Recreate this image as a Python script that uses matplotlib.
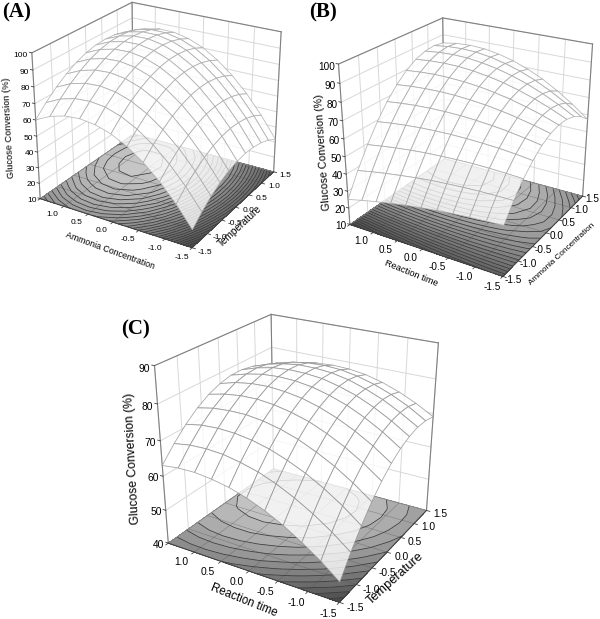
import numpy as np
import matplotlib
matplotlib.use("Agg")
import matplotlib.pyplot as plt
from matplotlib.colors import LinearSegmentedColormap
from mpl_toolkits.mplot3d import proj3d

plt.rcParams['font.family'] = ['Liberation Sans', 'DejaVu Sans']
W, H = 600, 619
ticks = [-1.5, -1.0, -0.5, 0.0, 0.5, 1.0, 1.5]
grid = [-1.5, -1.2, -0.9, -0.6, -0.3, 0.0, 0.3, 0.6, 0.9, 1.2, 1.5]

# surface heights, rows = y axis (left side), columns = x axis (right side)
Z_A = [[21.0, 26.8, 31.5, 35.1, 37.8, 39.4, 40.0, 39.5, 38.1, 35.6, 32.0],
       [33.5, 39.3, 44.1, 47.8, 50.6, 52.3, 53.0, 52.6, 51.3, 48.9, 45.4],
       [44.0, 49.9, 54.8, 58.6, 61.5, 63.3, 64.1, 63.8, 62.6, 60.3, 57.0],
       [52.6, 58.6, 63.6, 67.6, 70.5, 72.4, 73.3, 73.2, 72.0, 69.8, 66.6],
       [59.3, 65.4, 70.5, 74.6, 77.6, 79.7, 80.6, 80.6, 79.5, 77.4, 74.3],
       [64.2, 70.4, 75.6, 79.7, 82.9, 85.0, 86.1, 86.1, 85.2, 83.2, 80.2],
       [67.1, 73.5, 78.7, 83.0, 86.2, 88.5, 89.6, 89.8, 88.9, 87.0, 84.1],
       [68.2, 74.6, 80.0, 84.4, 87.7, 90.0, 91.3, 91.6, 90.8, 89.0, 86.2],
       [67.4, 73.9, 79.4, 83.8, 87.3, 89.7, 91.1, 91.4, 90.8, 89.1, 86.4],
       [64.7, 71.3, 76.9, 81.4, 85.0, 87.5, 89.0, 89.4, 88.9, 87.3, 84.7],
       [60.1, 66.8, 72.5, 77.1, 80.8, 83.4, 85.0, 85.5, 85.1, 83.6, 81.0]]
Z_B = [[38.0, 46.8, 54.1, 59.8, 64.1, 66.8, 67.9, 67.6, 65.7, 62.3, 57.3],
       [37.5, 46.7, 54.5, 60.9, 65.7, 69.1, 71.1, 71.5, 70.5, 68.1, 64.1],
       [36.8, 46.5, 54.8, 61.7, 67.1, 71.1, 73.7, 74.9, 74.7, 73.1, 70.0],
       [36.0, 46.1, 54.9, 62.2, 68.2, 72.8, 76.0, 77.8, 78.3, 77.4, 75.1],
       [35.0, 45.5, 54.7, 62.5, 69.0, 74.1, 77.8, 80.2, 81.2, 80.9, 79.2],
       [33.8, 44.8, 54.3, 62.6, 69.5, 75.0, 79.2, 82.0, 83.5, 83.6, 82.4],
       [32.5, 43.8, 53.8, 62.4, 69.7, 75.6, 80.1, 83.3, 85.1, 85.6, 84.7],
       [30.9, 42.6, 53.0, 62.0, 69.6, 75.8, 80.6, 84.1, 86.2, 86.9, 86.2],
       [29.2, 41.3, 52.0, 61.3, 69.2, 75.6, 80.7, 84.3, 86.5, 87.3, 86.7],
       [27.3, 39.8, 50.8, 60.4, 68.5, 75.1, 80.3, 84.0, 86.2, 87.0, 86.3],
       [25.2, 38.1, 49.4, 59.2, 67.5, 74.2, 79.5, 83.2, 85.3, 86.0, 85.0]]
Z_C = [[45.7, 51.1, 55.8, 59.9, 63.2, 65.9, 67.9, 69.2, 69.9, 69.8, 69.1],
       [49.8, 55.1, 59.7, 63.6, 66.8, 69.4, 71.3, 72.4, 72.9, 72.8, 71.9],
       [53.3, 58.5, 63.0, 66.8, 69.9, 72.3, 74.1, 75.1, 75.5, 75.2, 74.2],
       [56.4, 61.4, 65.8, 69.4, 72.4, 74.7, 76.4, 77.3, 77.5, 77.1, 76.0],
       [58.9, 63.8, 68.0, 71.6, 74.5, 76.6, 78.1, 78.9, 79.1, 78.5, 77.3],
       [60.9, 65.7, 69.8, 73.2, 75.9, 78.0, 79.4, 80.1, 80.1, 79.4, 78.0],
       [62.4, 67.0, 71.0, 74.3, 76.9, 78.8, 80.1, 80.6, 80.5, 79.7, 78.2],
       [63.3, 67.9, 71.7, 74.9, 77.4, 79.2, 80.3, 80.7, 80.5, 79.5, 77.9],
       [63.8, 68.2, 71.9, 74.9, 77.3, 79.0, 80.0, 80.3, 79.9, 78.8, 77.1],
       [63.7, 68.0, 71.6, 74.5, 76.7, 78.3, 79.1, 79.3, 78.8, 77.6, 75.7],
       [63.1, 67.2, 70.7, 73.5, 75.6, 77.0, 77.8, 77.8, 77.2, 75.9, 73.9]]
SURF = {'A': Z_A, 'B': Z_B, 'C': Z_C}

ZT = {'A': list(range(10, 101, 10)), 'B': list(range(10, 101, 10)), 'C': list(range(40, 91, 10))}
# elev, azim, box x, box z, focal length, axes rect
VIEW = {'A': (24.93, -148.66, .99, .894, .655, [.0226, .5766, .4747, .4602]),
        'B': (24.43, -148.79, 1.0, .969, .51, [.5316, .5377, .4901, .475]),
        'C': (24.77, -149.02, .999, .962, .475, [.2234, .0114, .5447, .528])}
STEP = {'A': 2.5, 'B': 2.5, 'C': 3}
FS = {'A': 6, 'B': 7.2, 'C': 7.4}
XOFF = {'A': -1.74, 'B': -1.69, 'C': -1.74}
EDGE = {'A': '#a8a8a8', 'B': '#a4a4a4', 'C': '#909090'}
gray = LinearSegmentedColormap.from_list('g', ['#484848', '#c6c6c6'])


def put(ax, x, y, z, s, fs, ha='center'):
    # tick text sits at the projected point of the 3d box
    xp, yp, _ = proj3d.proj_transform(x, y, z, ax.get_proj())
    ax.text2D(xp, yp, s, transform=ax.transData, fontsize=fs, ha=ha, va='center', zorder=5)


fig = plt.figure(figsize=(W / 100, H / 100), dpi=100)
for name in 'ABC':
    elev, azim, ax_x, ax_z, focal, pos = VIEW[name]
    ax = fig.add_axes(pos, projection='3d')
    ax.computed_zorder = False
    ax.set_axis_off()
    zt = ZT[name]
    z0, z1 = zt[0], zt[-1]
    ax.set_xlim(-1.5, 1.5); ax.set_ylim(-1.5, 1.5); ax.set_zlim(z0, z1)
    ax.view_init(elev=elev, azim=azim)
    ax.set_box_aspect((ax_x, 1, ax_z))
    ax.set_proj_type('persp', focal_length=focal)

    X, Y = np.meshgrid(grid, grid)
    Z = np.array(SURF[name])
    # walls
    for t in ticks:
        ax.plot([t, t], [1.5, 1.5], [z0, z1], color='#d8d8d8', lw=.7, zorder=1)
        ax.plot([1.5, 1.5], [t, t], [z0, z1], color='#d8d8d8', lw=.7, zorder=1)
    for zv in zt:
        ax.plot([-1.5, 1.5], [1.5, 1.5], [zv, zv], color='#d8d8d8', lw=.7, zorder=1)
        ax.plot([1.5, 1.5], [-1.5, 1.5], [zv, zv], color='#d8d8d8', lw=.7, zorder=1)
    # floor
    levels = np.arange(0, 105, STEP[name])
    ax.contourf(X, Y, Z, levels=levels, zdir='z', offset=z0, cmap=gray, vmin=Z.min(), vmax=Z.max(), zorder=2)
    ax.contour(X, Y, Z, levels=levels, zdir='z', offset=z0, colors='#383838', linewidths=.55, zorder=3)
    for t in ticks[1:-1]:
        ax.plot([t, t], [-1.5, 1.5], [z0, z0], color='#505050', lw=.4, alpha=.5, zorder=3)
        ax.plot([-1.5, 1.5], [t, t], [z0, z0], color='#505050', lw=.4, alpha=.5, zorder=3)
    ax.plot_surface(X, Y, Z, rstride=1, cstride=1, color='white', alpha=.78, shade=False,
                    edgecolor=EDGE[name], linewidth=.6, zorder=4)
    # box edges
    ec = '#808080'
    ax.plot([-1.5, -1.5, 1.5, 1.5], [1.5, 1.5, 1.5, -1.5], [z0, z1, z1, z1], color=ec, lw=.8, zorder=3)
    ax.plot([1.5, 1.5], [-1.5, -1.5], [z0, z1], color=ec, lw=.8, zorder=3)
    ax.plot([1.5, 1.5], [1.5, 1.5], [z0, z1], color=ec, lw=.8, zorder=3)
    ax.plot([-1.5, 1.5, 1.5], [1.5, 1.5, -1.5], [z0, z0, z0], color=ec, lw=.6, zorder=3)
    ax.plot([-1.5, -1.5, 1.5], [1.5, -1.5, -1.5], [z0, z0, z0], color='#404040', lw=.8, zorder=3)
    fs = FS[name]
    for t in ticks:
        ax.plot([t, t], [-1.5, -1.56], [z0, z0], color='#404040', lw=.6, zorder=3)
        ax.plot([-1.5, -1.56], [t, t], [z0, z0], color='#404040', lw=.6, zorder=3)
        put(ax, t, XOFF[name], z0, f'{t:.1f}', fs)
        if t < 1.5:
            put(ax, -1.82, t, z0, f'{t:.1f}', fs)
    for zv in zt:
        ax.plot([-1.5, -1.5], [1.5, 1.55], [zv, zv], color='#404040', lw=.6, zorder=3)
        put(ax, -1.5, 1.58, zv - .02 * (z1 - z0), str(zv), fs, ha='right')


def label(x, y, s, rot, fs):
    fig.text(x / W, 1 - y / H, s, rotation=rot, fontsize=fs, ha='center', va='center', rotation_mode='anchor')


label(9, 128, 'Glucose Conversion (%)', 93, 6.7)
label(110, 251, 'Ammonia Concentration', -20, 6.3)
label(240, 226, 'Temperature', 43, 7.2)
label(323, 152, 'Glucose Conversion (%)', 94, 7.7)
label(411, 273, 'Reaction time', -22, 6.7)
label(562, 254, 'Ammonia Concentration', 43, 5.9)
label(133, 459, 'Glucose Conversion (%)', 93, 8.7)
label(244, 600, 'Reaction time', -22, 8.3)
label(395, 579, 'Temperature', 42, 9.2)
for x, y, s in [(17, 12, '(A)'), (323, 12, '(B)'), (135, 329, '(C)')]:
    fig.text(x / W, 1 - y / H, s, family='Liberation Serif', fontweight='bold', fontsize=15, ha='center', va='center')

fig.savefig('out.png', dpi=100)
